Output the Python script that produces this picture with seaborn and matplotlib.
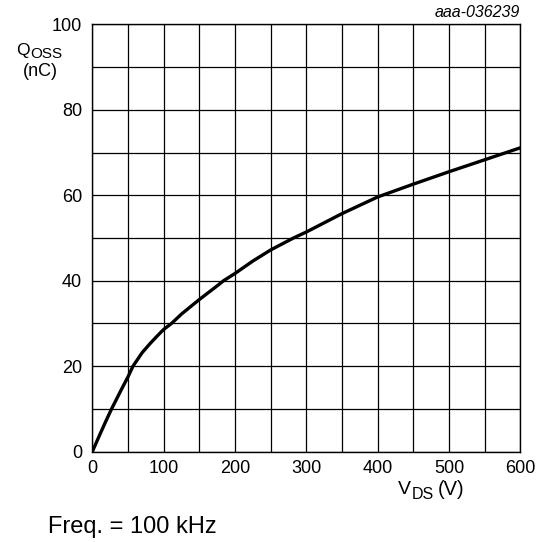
import matplotlib
matplotlib.use("Agg")
import matplotlib.pyplot as plt
import seaborn as sns
import pandas as pd
from matplotlib.ticker import MultipleLocator

# Output charge versus drain-source voltage
vds = [0, 10, 20, 27, 40, 50, 57, 70, 81, 90, 100, 111, 125, 150, 175, 184,
       200, 225, 250, 282, 300, 350, 400, 450, 500, 550, 600]
qoss = [0, 3.8, 7.5, 10, 14.3, 17.5, 20, 23.2, 25.3, 26.9, 28.6, 30, 32.2, 35.6,
        38.8, 40, 41.7, 44.6, 47.2, 50, 51.4, 55.7, 59.6, 62.6, 65.5, 68.3, 71.1]

x_ticks = [0, 100, 200, 300, 400, 500, 600]
y_ticks = [0, 20, 40, 60, 80, 100]

sns.set_theme(style="white")
plt.rcParams["font.family"] = ["Liberation Sans", "DejaVu Sans"]

W = H = 542
fig = plt.figure(figsize=(W / 100, H / 100), dpi=100)
ax = fig.add_axes([92.3 / W, 1 - 451.7 / H, 428 / W, 427.4 / H])

df = pd.DataFrame({"VDS": vds, "QOSS": qoss})
sns.lineplot(data=df, x="VDS", y="QOSS", ax=ax, color="black", linewidth=2.4,
             zorder=5)

ax.set_xlim(0, 600)
ax.set_ylim(0, 100)
ax.set_xticks(x_ticks)
ax.set_yticks(y_ticks)
ax.xaxis.set_minor_locator(MultipleLocator(50))
ax.yaxis.set_minor_locator(MultipleLocator(10))
ax.grid(True, which="both", color="black", linewidth=0.9)
ax.set_axisbelow(True)
for s in ax.spines.values():
    s.set_color("black")
    s.set_linewidth(1.0)
ax.tick_params(which="both", length=0)
ax.tick_params(axis="x", pad=6, labelsize=13, colors="black")
ax.tick_params(axis="y", pad=7.5, labelsize=13, colors="black")
ax.set_xlabel("")
ax.set_ylabel("")


def ftext(x, y, s, **kw):
    fig.text(x / W, 1 - y / H, s, va="baseline", color="black", **kw)


# y-axis quantity and unit
ftext(16.5, 54.5, "Q", fontsize=12.5)
ftext(30.5, 57.7, "OSS", fontsize=11)
ftext(40, 76, "(nC)", fontsize=13, ha="center")

# x-axis quantity and unit
ftext(398.3, 494.3, "V", fontsize=14)
ftext(411.7, 499, "DS", fontsize=11.5)
ftext(438, 495, "(V)", fontsize=14.5)

ftext(520, 17, "aaa-036239", fontsize=11.5, ha="right", style="italic")
ftext(48, 532.5, "Freq. = 100 kHz", fontsize=17)

fig.savefig("out.png", dpi=100)
